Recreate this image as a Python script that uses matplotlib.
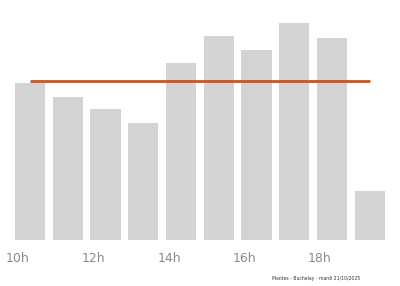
import matplotlib
matplotlib.use("Agg")
import matplotlib.pyplot as plt
import numpy as np

# hourly attendance (relative units)
hours = [10, 11, 12, 13, 14, 15, 16, 17, 18, 19]
values = [157, 143, 131, 117, 177, 204, 190, 217, 202, 49]
tick_hours = [10, 12, 14, 16, 18]
tick_labels = ["10h", "12h", "14h", "16h", "18h"]
footer = "Mantes - Buchelay - mardi 21/10/2025"

x = np.array(hours) + 0.32
mean = np.mean(values)

fig = plt.figure(figsize=(4, 2.86), dpi=100)
ax = fig.add_axes([0, 46 / 286, 1, 240 / 286])
ax.bar(x, values, width=0.8, color="#d3d3d3")
ax.plot([x[0], x[-1]], [mean, mean], color="#c0562a", lw=2, solid_capstyle="butt")

ax.set_xlim(9.523, 20.12)
ax.set_ylim(0, 240)
ax.set_xticks(tick_hours)
ax.set_xticklabels(tick_labels, color="#8a8a8a", fontsize=9)
ax.tick_params(axis="x", length=0, pad=9)
ax.set_yticks([])
for s in ax.spines.values():
    s.set_visible(False)

fig.text(0.9, 0.027, footer, fontsize=3.3, color="#333333", ha="right", va="center")

fig.savefig("out.png", dpi=100)
